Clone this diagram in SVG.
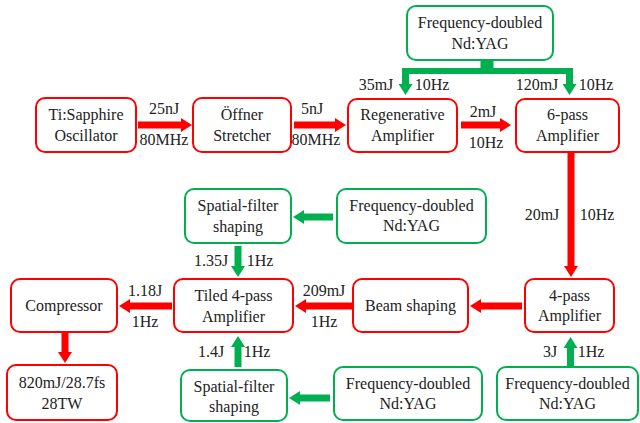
<svg xmlns="http://www.w3.org/2000/svg" width="640" height="423" viewBox="0 0 640 423">
<defs>
<style>
.r{fill:#fff;stroke:#f00;stroke-width:2}
.g{fill:#fff;stroke:#00b050;stroke-width:2}
.t text{font-size:16px;fill:#222;text-anchor:middle}
.ra{stroke:#f00;stroke-width:7;fill:none}
.ga{stroke:#00b050;stroke-width:7;fill:none}
</style>
<marker id="rh" markerUnits="userSpaceOnUse" markerWidth="11" markerHeight="14" refX="0" refY="7" orient="auto"><path d="M0,0 L11,7 L0,14 z" fill="#f00"/></marker>
<marker id="gh" markerUnits="userSpaceOnUse" markerWidth="11" markerHeight="14" refX="0" refY="7" orient="auto"><path d="M0,0 L11,7 L0,14 z" fill="#00b050"/></marker>
</defs>
<rect width="640" height="423" fill="#fff"/>
<g class="t" font-family="Liberation Serif, Times New Roman, DejaVu Serif, serif">
<g id="connectors">
<line class="ra" x1="138" y1="125" x2="181" y2="125" marker-end="url(#rh)"/>
<line class="ra" x1="294" y1="125" x2="335" y2="125" marker-end="url(#rh)"/>
<line class="ra" x1="461" y1="125" x2="500" y2="125" marker-end="url(#rh)"/>
<line class="ra" x1="571" y1="153" x2="571" y2="266" marker-end="url(#rh)"/>
<line class="ra" x1="522" y1="306" x2="481" y2="306" marker-end="url(#rh)"/>
<line class="ra" x1="352" y1="306" x2="306" y2="306" marker-end="url(#rh)"/>
<line class="ra" x1="172" y1="306" x2="130" y2="306" marker-end="url(#rh)"/>
<line class="ra" x1="65" y1="333" x2="65" y2="352" marker-end="url(#rh)"/>
<rect x="480.5" y="60" width="13" height="9" fill="#00b050"/>
<rect x="402" y="68" width="171" height="6" fill="#00b050"/>
<line class="ga" x1="405.5" y1="68" x2="405.5" y2="84" marker-end="url(#gh)"/>
<line class="ga" x1="569.5" y1="68" x2="569.5" y2="84" marker-end="url(#gh)"/>
<line class="ga" x1="333" y1="217" x2="304" y2="217" marker-end="url(#gh)"/>
<line class="ga" x1="238" y1="246" x2="238" y2="266" marker-end="url(#gh)"/>
<line class="ga" x1="238" y1="367" x2="238" y2="347" marker-end="url(#gh)"/>
<line class="ga" x1="330" y1="398" x2="300" y2="398" marker-end="url(#gh)"/>
<line class="ga" x1="570.5" y1="366" x2="570.5" y2="348" marker-end="url(#gh)"/>
<text x="164" y="114">25nJ</text>
<text x="164" y="145">80MHz</text>
<text x="312" y="114">5nJ</text>
<text x="316" y="145">80MHz</text>
<text x="483" y="117">2mJ</text>
<text x="486" y="148">10Hz</text>
<text x="376" y="90">35mJ</text>
<text x="432" y="90">10Hz</text>
<text x="537" y="90">120mJ</text>
<text x="596" y="90">10Hz</text>
<text x="542" y="220">20mJ</text>
<text x="597" y="220">10Hz</text>
<text x="324" y="296">209mJ</text>
<text x="324" y="327">1Hz</text>
<text x="145" y="296">1.18J</text>
<text x="145" y="327">1Hz</text>
<text x="211" y="266">1.35J</text>
<text x="260" y="266">1Hz</text>
<text x="211" y="357">1.4J</text>
<text x="257" y="357">1Hz</text>
<text x="550" y="357">3J</text>
<text x="591" y="357">1Hz</text>
</g>
<g id="oscillator"><rect class="r" x="36" y="98" width="100" height="54" rx="9"/><text x="86" y="120">Ti:Sapphire</text><text x="86" y="141">Oscillator</text></g>
<g id="stretcher"><rect class="r" x="193" y="98" width="98" height="54" rx="9"/><text x="242" y="120">Öffner</text><text x="242" y="141">Stretcher</text></g>
<g id="regen"><rect class="r" x="348" y="99" width="109" height="53" rx="9"/><text x="402.5" y="120">Regenerative</text><text x="402.5" y="141">Amplifier</text></g>
<g id="sixpass"><rect class="r" x="516" y="99" width="103" height="53" rx="9"/><text x="567.5" y="120">6-pass</text><text x="567.5" y="141">Amplifier</text></g>
<g id="yag-top"><rect class="g" x="407" y="6" width="146" height="54" rx="9"/><text x="480" y="28">Frequency-doubled</text><text x="480" y="49">Nd:YAG</text></g>
<g id="fourpass"><rect class="r" x="525" y="279" width="89" height="53" rx="9"/><text x="569.5" y="301">4-pass</text><text x="569.5" y="321">Amplifier</text></g>
<g id="beam"><rect class="r" x="353" y="279" width="115" height="53" rx="9"/><text x="410.5" y="311">Beam shaping</text></g>
<g id="tiled"><rect class="r" x="174" y="279" width="119" height="53" rx="9"/><text x="233.5" y="301">Tiled 4-pass</text><text x="233.5" y="322">Amplifier</text></g>
<g id="compressor"><rect class="r" x="11" y="279" width="106" height="53" rx="9"/><text x="64" y="311">Compressor</text></g>
<g id="output"><rect class="r" x="7" y="365" width="110" height="55" rx="9"/><text x="62" y="388">820mJ/28.7fs</text><text x="62" y="409">28TW</text></g>
<g id="spatial-top"><rect class="g" x="185" y="189" width="106" height="54" rx="9"/><text x="238" y="211">Spatial-filter</text><text x="238" y="232">shaping</text></g>
<g id="yag-mid-top"><rect class="g" x="337" y="189" width="149" height="54" rx="9"/><text x="411.5" y="211">Frequency-doubled</text><text x="411.5" y="231">Nd:YAG</text></g>
<g id="spatial-bottom"><rect class="g" x="181" y="370" width="106" height="51" rx="9"/><text x="234" y="392">Spatial-filter</text><text x="234" y="412">shaping</text></g>
<g id="yag-mid-bottom"><rect class="g" x="334" y="367" width="148" height="53" rx="9"/><text x="408" y="389">Frequency-doubled</text><text x="408" y="409">Nd:YAG</text></g>
<g id="yag-right"><rect class="g" x="497" y="367" width="141" height="53" rx="9"/><text x="567.5" y="389">Frequency-doubled</text><text x="567.5" y="409">Nd:YAG</text></g>
</g>
</svg>
